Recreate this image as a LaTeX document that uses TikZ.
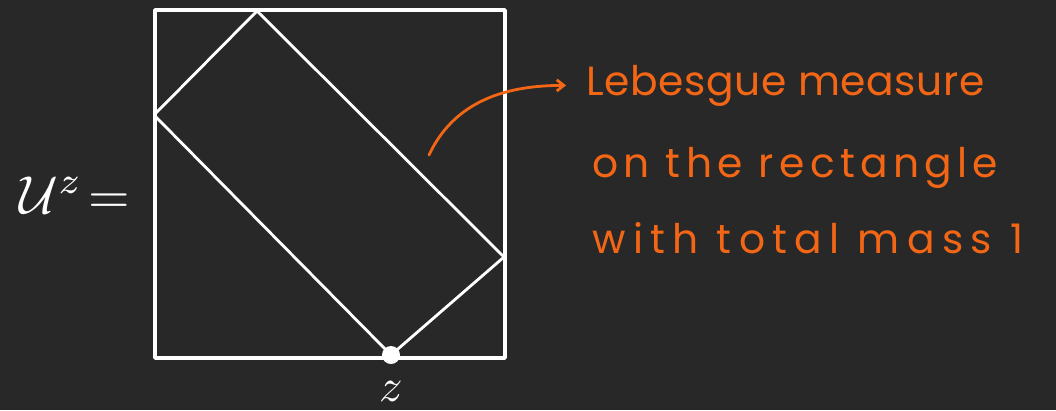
\documentclass[tikz,border=0pt]{standalone}
\usepackage{amsfonts,amsmath,amssymb}
\usepackage{xcolor}
\usepackage{fontspec}
\newfontfamily\handfont{Poppins}[LetterSpace=1.5]
\newfontfamily\handwide{Poppins}[LetterSpace=13]
\newfontfamily\handwider{Poppins}[LetterSpace=18]
\usetikzlibrary{arrows.meta}
\definecolor{board}{RGB}{40,40,40}
\definecolor{chalkorange}{RGB}{242,102,22}
\tikzset{
chalk/.style={white,line width=2pt,line join=round,line cap=round},
note/.style={chalkorange,font=\handfont\fontsize{29}{29}\selectfont,anchor=base west,inner sep=0pt},
widenote/.style={note,font=\handwide\fontsize{29}{29}\selectfont},
widernote/.style={note,font=\handwider\fontsize{29}{29}\selectfont}
}

\begin{document}
\begin{tikzpicture}[x=0.025cm,y=-0.025cm,>=Stealth]
\fill[board](0,0)rectangle(1056,410);
\useasboundingbox(0,0)rectangle(1056,410);
\draw[chalk,line width=2.6pt](155,10)rectangle(505,358);
\coordinate(top)at(257,11);
\coordinate(left)at(154,115);
\coordinate(right)at(504,257);
\node[circle,fill=white,inner sep=0pt,minimum size=0.45cm](z)at(391,355){};
\draw[chalk](top)--(left)--(z.center)--(right)--cycle;
\node[white,scale=3.3,inner sep=0pt](zlab)at(391,391){$z$};
\node[white,scale=3.8](uz)at(75,195){$\mathcal{U}^{z}\!=$};
\coordinate(tail)at(429,155);
\node[note](l1)at(586,95){Lebesgue measure};
\node[widenote](l2)at(592,177){on the rectangle};
\node[widernote](l3)at(592,253){with total mass 1};
\draw[chalkorange,line width=2pt,line cap=round,-{Straight Barb[length=5pt,width=8pt]},shorten >=0.5cm]
(tail)to[out=65,in=180](l1.west);
\end{tikzpicture}
\end{document}
